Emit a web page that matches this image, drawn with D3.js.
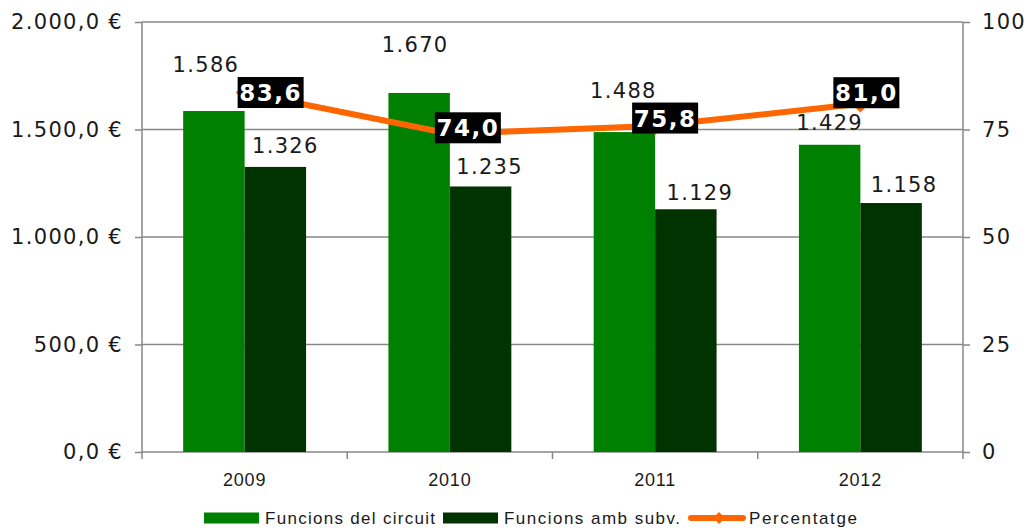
<!DOCTYPE html>
<html>
<head>
<meta charset="utf-8">
<script src="https://cdn.jsdelivr.net/npm/d3@7"></script>
<style>
    body { margin: 0; background: #fff; }
    svg { display: block; }
    .tick-label { font-family: "DejaVu Sans", sans-serif; font-size: 21px; fill: #1a1a1a; letter-spacing: 1.3px; }
    .bar-label { font-family: "DejaVu Sans", sans-serif; font-size: 21px; fill: #1a1a1a; letter-spacing: 1.3px; }
    .cat-label { font-family: "Liberation Sans", Arial, sans-serif; font-size: 18px; fill: #1a1a1a; letter-spacing: 0.8px; }
    .pct-label { font-family: "DejaVu Sans", sans-serif; font-size: 23px; font-weight: bold; fill: #fff; letter-spacing: 1.5px; }
    .legend-label { font-family: "Liberation Sans", Arial, sans-serif; font-size: 17px; fill: #1a1a1a; }
</style>
</head>
<body>
<svg id="chart" width="1028" height="528"></svg>
<script>
// data
const years = ["2009", "2010", "2011", "2012"];
const circuit = [1586, 1670, 1488, 1429];
const subv = [1326, 1235, 1129, 1158];
const percent = [83.6, 74.0, 75.8, 81.0];
const seriesNames = ["Funcions del circuit", "Funcions amb subv.", "Percentatge"];
const leftTicks = [0, 500, 1000, 1500, 2000];
const rightTicks = [0, 25, 50, 75, 100];

const attr = {
    width: 1028,
    height: 528,
    left: 142,
    right: 963,
    top: 22,
    bottom: 452,
    green: "#008000",
    dark: "#003300",
    orange: "#ff6600",
    axis: "#878787"
};

// label nudges (Excel moved labels around to avoid overlap)
const circuitLabelShift = [[-8, -39], [-4, -41], [-1, -34], [0, -15]];
const subvLabelShift = [[10, -14], [9, -12], [14, -9], [13, -11]];
const pctLabelShift = [[26, 0], [18, -6], [10, -8], [6, -11]];

const fmtThousands = d3.formatLocale({ decimal: ",", thousands: ".", grouping: [3] });
const fmtInt = fmtThousands.format(",d");
const fmtEuro = d => fmtThousands.format(",.1f")(d) + " €";
const fmtPct = d => fmtThousands.format(".1f")(d);

const translate = function(a, b) {
    return "translate(" + a + ", " + b + ")";
};

const svg = d3.select("#chart");

const x = d3.scaleBand().domain(years).range([attr.left, attr.right]);
const xSub = d3.scaleBand().domain([0, 1]).range([0, x.bandwidth()]).paddingOuter(0.67);
const y = d3.scaleLinear().domain([0, 2000]).range([attr.bottom, attr.top]);
const y2 = d3.scaleLinear().domain([0, 100]).range([attr.bottom, attr.top]);

// gridlines
svg.append("g")
    .selectAll("line")
    .data(leftTicks.filter(d => d > 0))
    .enter()
    .append("line")
    .attr("x1", attr.left)
    .attr("x2", attr.right)
    .attr("y1", d => y(d))
    .attr("y2", d => y(d))
    .attr("stroke", attr.axis)
    .attr("stroke-width", 1.5);

// left axis
let leftAxis = svg.append("g")
    .attr("transform", translate(attr.left, 0))
    .call(d3.axisLeft(y).tickValues(leftTicks).tickSize(7).tickPadding(12).tickFormat(fmtEuro));
leftAxis.select(".domain").attr("stroke", attr.axis).attr("stroke-width", 1.5).attr("d", "M0," + attr.top + "V" + (attr.bottom + 7));
leftAxis.selectAll(".tick line").attr("stroke", attr.axis).attr("stroke-width", 1.5);
leftAxis.selectAll(".tick text").attr("class", "tick-label").attr("font-family", null).attr("font-size", null).attr("fill", null);

// right axis
let rightAxis = svg.append("g")
    .attr("transform", translate(attr.right, 0))
    .call(d3.axisRight(y2).tickValues(rightTicks).tickSize(7).tickPadding(12));
rightAxis.select(".domain").attr("stroke", attr.axis).attr("stroke-width", 1.5).attr("d", "M0," + attr.top + "V" + attr.bottom);
rightAxis.selectAll(".tick line").attr("stroke", attr.axis).attr("stroke-width", 1.5);
rightAxis.selectAll(".tick text").attr("class", "tick-label").attr("font-family", null).attr("font-size", null).attr("fill", null);

// bottom axis
let bottom = svg.append("g");
bottom.append("line")
    .attr("x1", attr.left).attr("x2", attr.right)
    .attr("y1", attr.bottom).attr("y2", attr.bottom)
    .attr("stroke", attr.axis).attr("stroke-width", 1.5);
bottom.selectAll(".cat-tick")
    .data(years.slice(1).concat(["end"]))
    .enter()
    .append("line")
    .attr("class", "cat-tick")
    .attr("x1", d => d === "end" ? attr.right : x(d))
    .attr("x2", d => d === "end" ? attr.right : x(d))
    .attr("y1", attr.bottom)
    .attr("y2", attr.bottom + 7)
    .attr("stroke", attr.axis).attr("stroke-width", 1.5);
bottom.selectAll(".cat-label")
    .data(years)
    .enter()
    .append("text")
    .attr("class", "cat-label")
    .attr("x", d => x(d) + x.bandwidth() / 2)
    .attr("y", 486)
    .attr("text-anchor", "middle")
    .text(d => d);

// bars
const barData = [];
years.forEach(function(yr, i) {
    barData.push({ year: yr, s: 0, v: circuit[i], i: i });
    barData.push({ year: yr, s: 1, v: subv[i], i: i });
});

svg.append("g")
    .selectAll("rect")
    .data(barData)
    .enter()
    .append("rect")
    .attr("x", d => x(d.year) + xSub(d.s))
    .attr("y", d => y(d.v))
    .attr("width", xSub.bandwidth())
    .attr("height", d => y(0) - y(d.v))
    .style("fill", d => d.s === 0 ? attr.green : attr.dark);

// line
const cx = i => x(years[i]) + x.bandwidth() / 2;
const line = d3.line().x((d, i) => cx(i)).y(d => y2(d));

svg.append("path")
    .datum(percent)
    .attr("d", line)
    .attr("fill", "none")
    .attr("stroke", attr.orange)
    .attr("stroke-width", 6);

const diamond = d3.symbol().type(d3.symbolDiamond2).size(200);
svg.append("g")
    .selectAll("path")
    .data(percent)
    .enter()
    .append("path")
    .attr("d", diamond)
    .attr("transform", (d, i) => translate(cx(i), y2(d)))
    .style("fill", attr.orange);

// bar value labels
svg.append("g")
    .selectAll("text")
    .data(barData)
    .enter()
    .append("text")
    .attr("class", "bar-label")
    .attr("text-anchor", "middle")
    .attr("x", function(d) {
        let shift = d.s === 0 ? circuitLabelShift[d.i] : subvLabelShift[d.i];
        return x(d.year) + xSub(d.s) + xSub.bandwidth() / 2 + shift[0];
    })
    .attr("y", function(d) {
        let shift = d.s === 0 ? circuitLabelShift[d.i] : subvLabelShift[d.i];
        return y(d.v) + shift[1];
    })
    .text(d => fmtInt(d.v));

// percentage labels with black boxes
let pctG = svg.append("g")
    .selectAll("g")
    .data(percent)
    .enter()
    .append("g")
    .attr("transform", (d, i) => translate(cx(i) + pctLabelShift[i][0], y2(d) + pctLabelShift[i][1]));

pctG.append("rect")
    .attr("x", -33)
    .attr("y", -15.5)
    .attr("width", 66)
    .attr("height", 31)
    .style("fill", "#000");

pctG.append("text")
    .attr("class", "pct-label")
    .attr("text-anchor", "middle")
    .attr("y", 8.5)
    .text(d => fmtPct(d));

// legend
let legend = svg.append("g");
const legendX = [204, 443, 688];
const legendTextW = [170, 176, 108];

seriesNames.forEach(function(name, i) {
    let g = legend.append("g").attr("transform", translate(legendX[i], 518));
    if (i < 2) {
        g.append("rect")
            .attr("x", 0)
            .attr("y", -5.5)
            .attr("width", 55)
            .attr("height", 11)
            .style("fill", i === 0 ? attr.green : attr.dark);
    } else {
        g.append("line")
            .attr("x1", 3).attr("x2", 55)
            .attr("y1", 0).attr("y2", 0)
            .attr("stroke", attr.orange)
            .attr("stroke-width", 6)
            .attr("stroke-linecap", "round");
        g.append("path")
            .attr("d", d3.symbol().type(d3.symbolDiamond2).size(90))
            .attr("transform", translate(31, 0))
            .style("fill", attr.orange);
    }
    g.append("text")
        .attr("class", "legend-label")
        .attr("x", 61)
        .attr("y", 6)
        .attr("textLength", legendTextW[i])
        .attr("lengthAdjust", "spacing")
        .text(name);
});
</script>
</body>
</html>
